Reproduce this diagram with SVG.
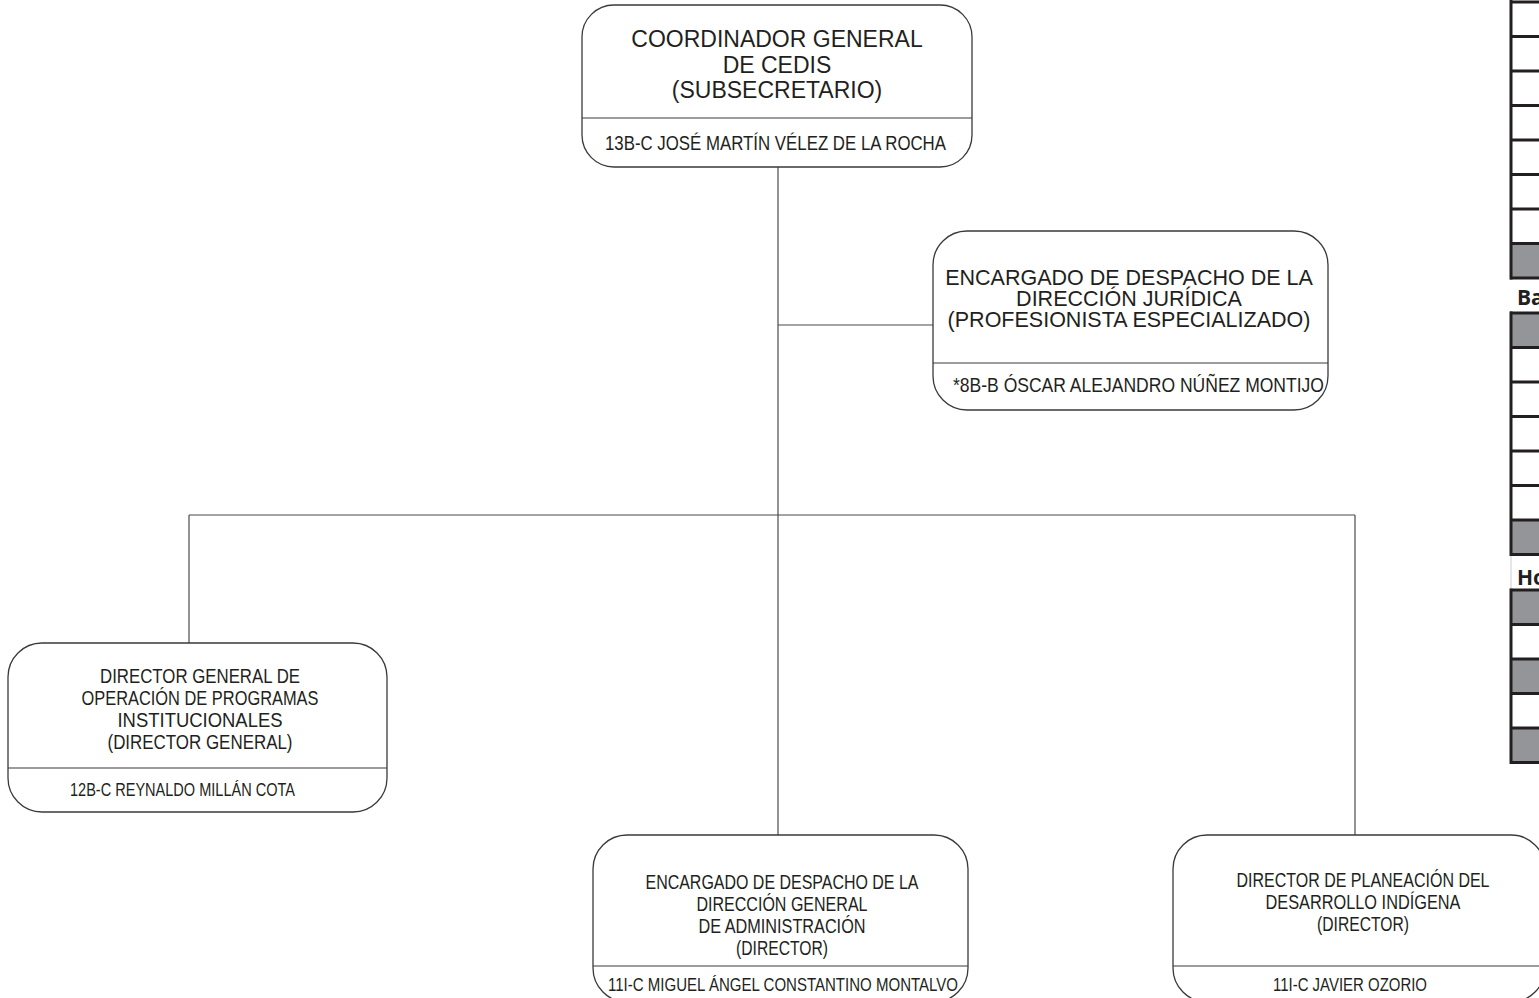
<svg xmlns="http://www.w3.org/2000/svg" width="1539" height="998" viewBox="0 0 1539 998">
<style>
.box{fill:#fff;stroke:#3a3a3a;stroke-width:1.3}
.div{stroke:#3a3a3a;stroke-width:1.1}
.con{stroke:#4a4a4a;stroke-width:1.2;fill:none}
.t{font-family:"Liberation Sans",Arial,sans-serif;fill:#231f20;text-anchor:middle}
.n{font-family:"Liberation Sans Narrow","Liberation Sans",Arial,sans-serif;fill:#231f20}
.nm{text-anchor:middle}
.tb{stroke:#231f20;stroke-width:3}
.gr{fill:#939598}
.lb{font-family:"Open Sans","Liberation Sans",Arial,sans-serif;font-weight:bold;font-size:21px;fill:#231f20}
</style>
<rect width="1539" height="998" fill="#fff"/>
<g id="connectors">
<line class="con" x1="778" y1="167" x2="778" y2="835"/>
<line class="con" x1="778" y1="325" x2="933" y2="325"/>
<line class="con" x1="189" y1="515" x2="1355" y2="515"/>
<line class="con" x1="189" y1="515" x2="189" y2="643"/>
<line class="con" x1="1355" y1="515" x2="1355" y2="835"/>
</g>
<g id="node-coordinador">
<rect class="box" x="582" y="5" width="390" height="162" rx="32"/>
<line class="div" x1="582" y1="118" x2="972" y2="118"/>
<text class="t" font-size="23" x="777" y="47">COORDINADOR GENERAL</text>
<text class="t" font-size="23" x="777" y="73">DE CEDIS</text>
<text class="t" font-size="23" x="777" y="98">(SUBSECRETARIO)</text>
<text class="n" font-size="20" x="605" y="150" textLength="341" lengthAdjust="spacingAndGlyphs">13B-C JOSÉ MARTÍN VÉLEZ DE LA ROCHA</text>
</g>
<g id="node-juridica">
<rect class="box" x="933" y="231" width="395" height="179" rx="34"/>
<line class="div" x1="933" y1="363" x2="1328" y2="363"/>
<text class="t" font-size="21.5" x="1129" y="285">ENCARGADO DE DESPACHO DE LA</text>
<text class="t" font-size="21.5" x="1129" y="306">DIRECCIÓN JURÍDICA</text>
<text class="t" font-size="21.5" x="1129" y="327">(PROFESIONISTA ESPECIALIZADO)</text>
<text class="n" font-size="21" x="953" y="392" textLength="371" lengthAdjust="spacingAndGlyphs">*8B-B ÓSCAR ALEJANDRO NÚÑEZ MONTIJO</text>
</g>
<g id="node-operacion">
<rect class="box" x="8" y="643" width="379" height="169" rx="34"/>
<line class="div" x1="8" y1="768" x2="387" y2="768"/>
<text class="n nm" font-size="20" x="200" y="683" textLength="200" lengthAdjust="spacingAndGlyphs">DIRECTOR  GENERAL DE</text>
<text class="n nm" font-size="20" x="200" y="705" textLength="237" lengthAdjust="spacingAndGlyphs">OPERACIÓN DE PROGRAMAS</text>
<text class="n nm" font-size="20" x="200" y="727" textLength="165" lengthAdjust="spacingAndGlyphs">INSTITUCIONALES</text>
<text class="n nm" font-size="20" x="200" y="749" textLength="185" lengthAdjust="spacingAndGlyphs">(DIRECTOR GENERAL)</text>
<text class="n" font-size="18" x="70" y="796" textLength="225" lengthAdjust="spacingAndGlyphs">12B-C REYNALDO MILLÁN COTA</text>
</g>
<g id="node-administracion">
<rect class="box" x="593" y="835" width="375" height="167" rx="34"/>
<line class="div" x1="593" y1="966" x2="968" y2="966"/>
<text class="n nm" font-size="20" x="782" y="889" textLength="273" lengthAdjust="spacingAndGlyphs">ENCARGADO DE DESPACHO DE LA</text>
<text class="n nm" font-size="20" x="782" y="911" textLength="171" lengthAdjust="spacingAndGlyphs">DIRECCIÓN GENERAL</text>
<text class="n nm" font-size="20" x="782" y="933" textLength="167" lengthAdjust="spacingAndGlyphs">DE ADMINISTRACIÓN</text>
<text class="n nm" font-size="20" x="782" y="955" textLength="92" lengthAdjust="spacingAndGlyphs">(DIRECTOR)</text>
<text class="n nm" font-size="18" x="783" y="991" textLength="350" lengthAdjust="spacingAndGlyphs">11I-C MIGUEL ÁNGEL CONSTANTINO MONTALVO</text>
</g>
<g id="node-planeacion">
<rect class="box" x="1173" y="835" width="372" height="167" rx="34"/>
<line class="div" x1="1173" y1="966" x2="1545" y2="966"/>
<text class="n nm" font-size="20" x="1363" y="887" textLength="253" lengthAdjust="spacingAndGlyphs">DIRECTOR DE PLANEACIÓN DEL</text>
<text class="n nm" font-size="20" x="1363" y="909" textLength="195" lengthAdjust="spacingAndGlyphs">DESARROLLO INDÍGENA</text>
<text class="n nm" font-size="20" x="1363" y="931" textLength="92" lengthAdjust="spacingAndGlyphs">(DIRECTOR)</text>
<text class="n nm" font-size="18" x="1350" y="991" textLength="154" lengthAdjust="spacingAndGlyphs">11I-C JAVIER OZORIO</text>
</g>
<g id="side-table">
<rect class="gr" x="1511" y="243.5" width="30" height="34.5"/>
<rect class="gr" x="1511" y="313" width="30" height="34.5"/>
<rect class="gr" x="1511" y="520" width="30" height="34.5"/>
<rect class="gr" x="1511" y="590" width="30" height="34.5"/>
<rect class="gr" x="1511" y="659" width="30" height="34.5"/>
<rect class="gr" x="1511" y="728" width="30" height="34.5"/>
<line class="tb" x1="1511" y1="0" x2="1511" y2="279.5"/>
<line class="tb" x1="1511" y1="311.5" x2="1511" y2="556"/>
<line class="tb" x1="1511" y1="588.5" x2="1511" y2="764"/>
<line x1="1511" y1="556" x2="1511" y2="588.5" stroke="#e6e6e6" stroke-width="2"/>
<path class="tb" d="M1510 2H1541M1510 36.5H1541M1510 71H1541M1510 105.5H1541M1510 140H1541M1510 174.5H1541M1510 209H1541M1510 243.5H1541M1510 278H1541"/>
<path class="tb" d="M1510 313H1541M1510 347.5H1541M1510 382H1541M1510 416.5H1541M1510 451H1541M1510 485.5H1541M1510 520H1541M1510 554.5H1541"/>
<path class="tb" d="M1510 590H1541M1510 624.5H1541M1510 659H1541M1510 693.5H1541M1510 728H1541M1510 762.5H1541"/>
<text class="lb" x="1517" y="305">Ba</text>
<text class="lb" x="1517" y="585">Ho</text>
</g>
</svg>
